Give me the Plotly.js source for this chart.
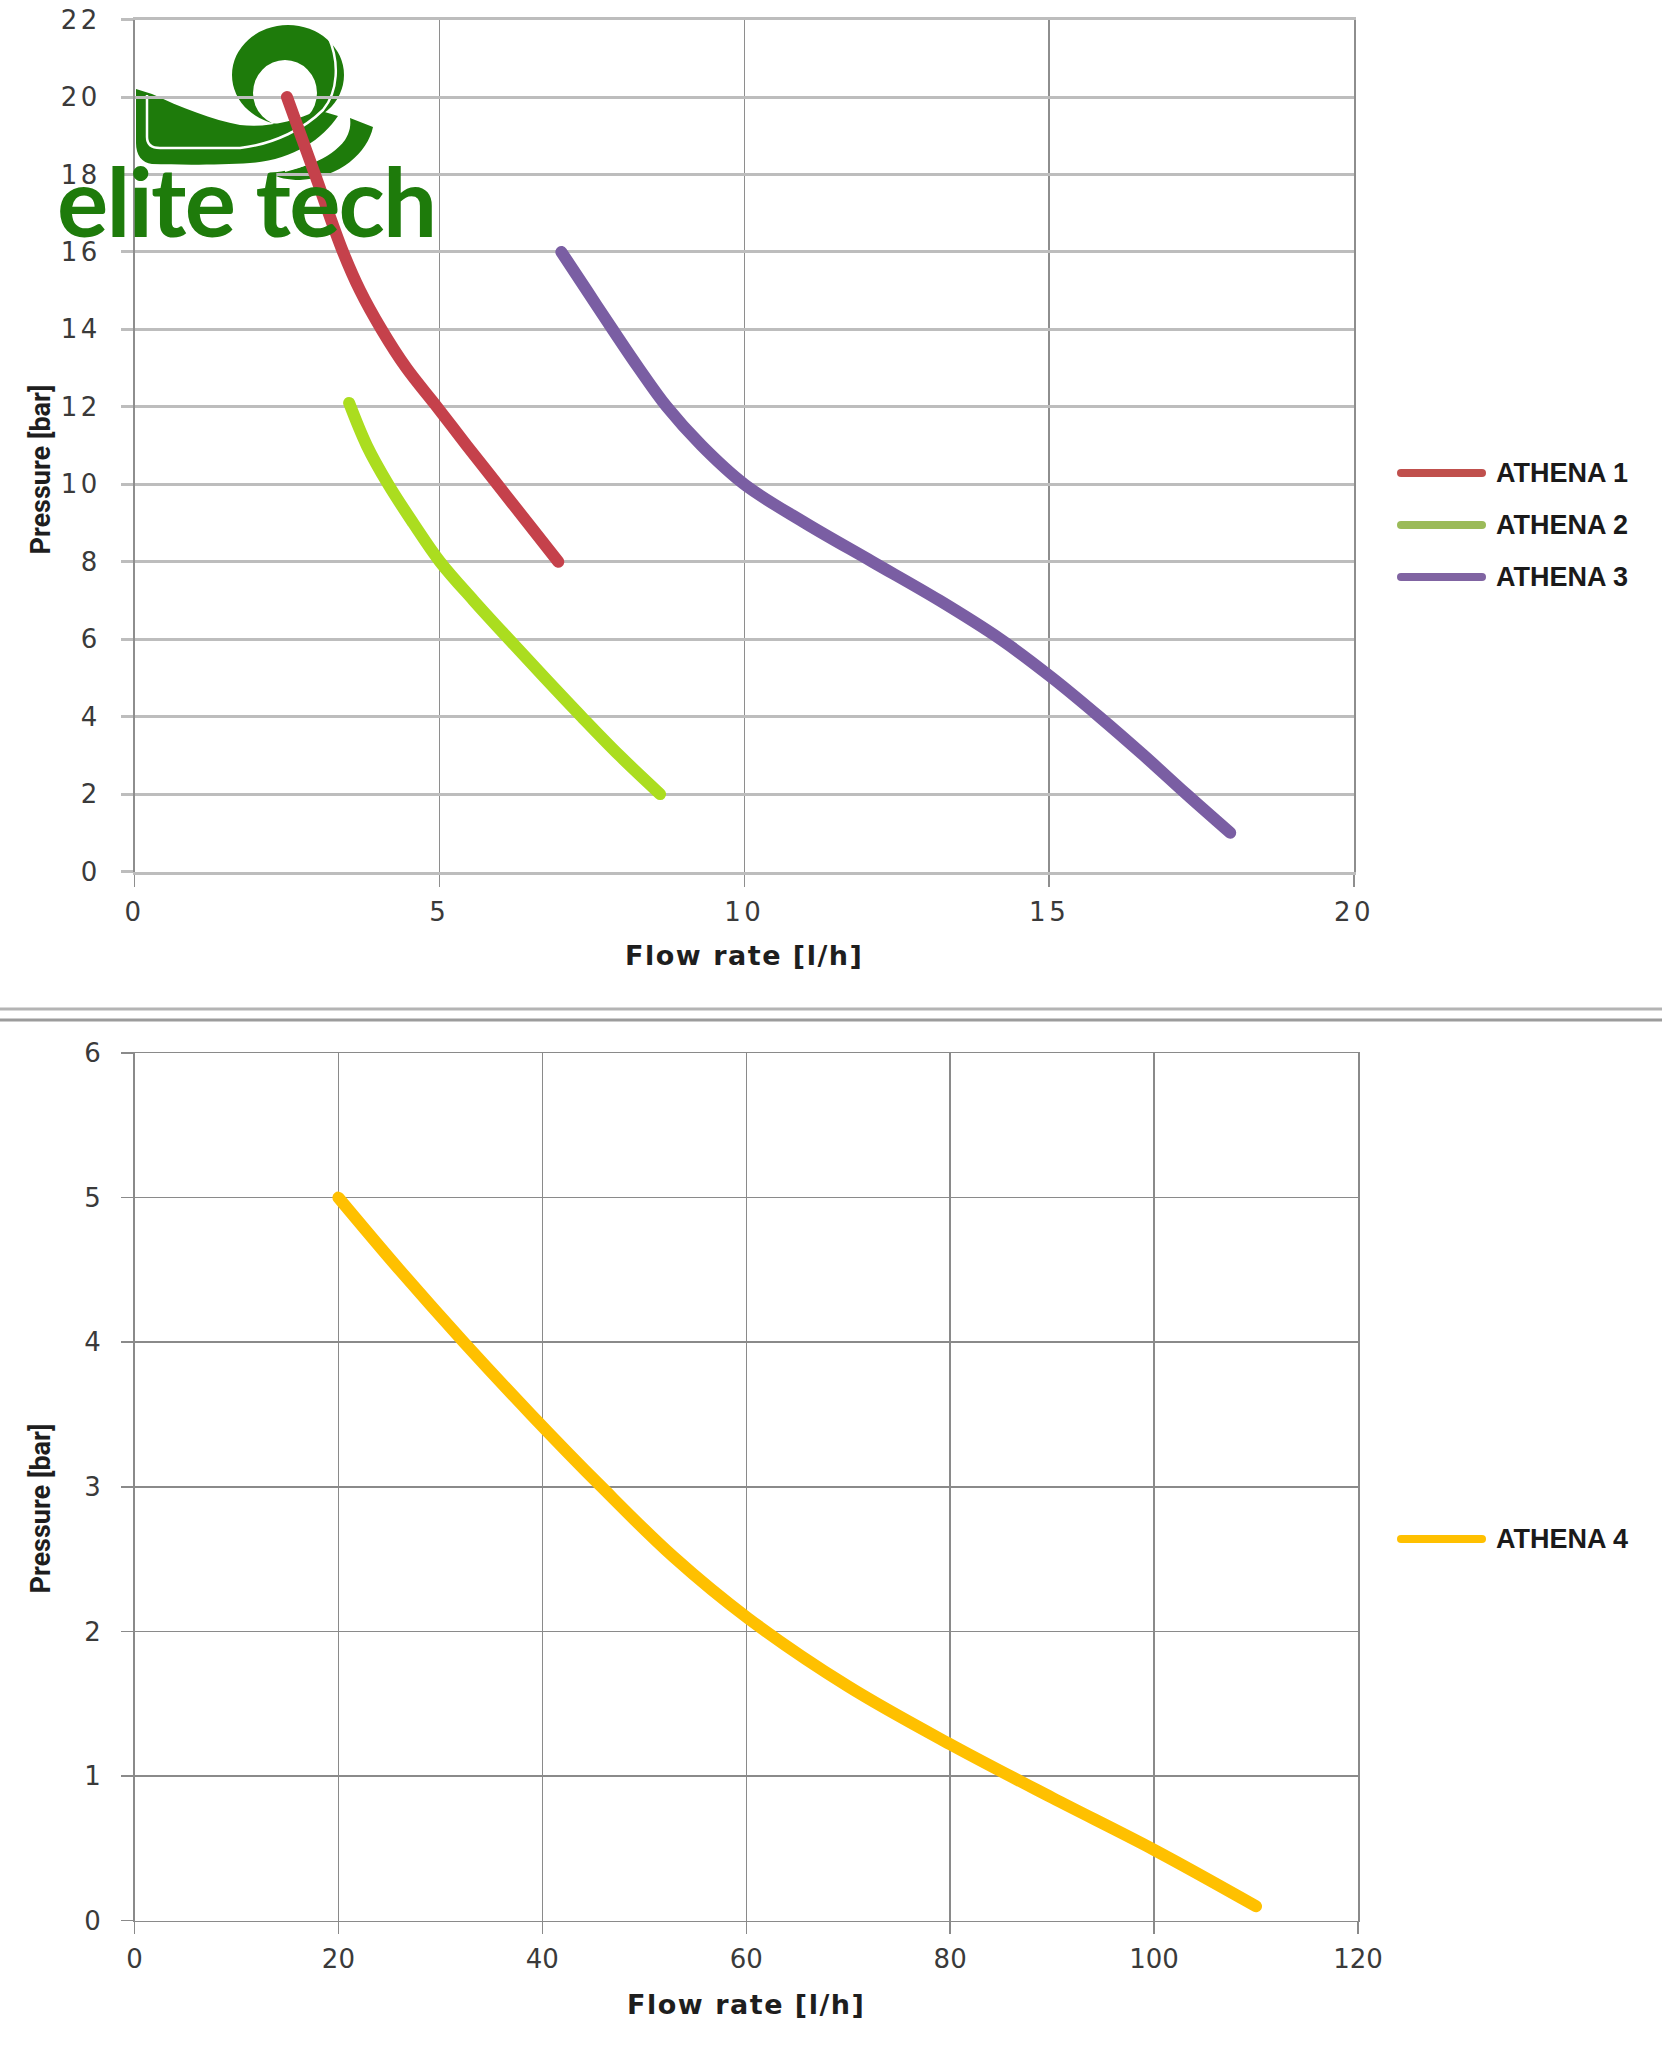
<!DOCTYPE html>
<html><head><meta charset="utf-8">
<script src="https://cdn.plot.ly/plotly-3.0.1.min.js"></script>
<style>
html,body{margin:0;padding:0;background:#fff;}
#chart{width:1662px;height:2048px;}
.xtick text,.ytick text{letter-spacing:3.5px;}
.g-xtitle text,.g-x2title text{letter-spacing:1.5px;}
.annotation[data-index="0"] text{letter-spacing:-1.8px;}
.scatterlayer .js-line{stroke-linecap:round;stroke-linejoin:round;}
.shapelayer path{stroke-linecap:round;}
</style></head><body><div id="chart"></div>
<script>
// ---------- data ----------
const topSeriesNames = ['ATHENA 1', 'ATHENA 2', 'ATHENA 3'];
const athena1Flow = [2.5, 2.96, 3.42, 3.7, 4.05, 4.46, 4.96, 5.45, 5.95, 6.45, 6.95];
const athena1Pressure = [20, 18, 16, 15, 14, 13, 12, 11, 10, 9, 8];
const athena2Flow = [3.52, 3.81, 4.16, 4.57, 5.01, 5.56, 6.14, 6.73, 7.33, 7.95, 8.62];
const athena2Pressure = [12.1, 11, 10, 9, 8, 7, 6, 5, 4, 3, 2];
const athena3Flow = [7.0, 7.42, 7.84, 8.27, 8.73, 9.3, 10.0, 11.0, 12.1, 13.2, 14.2, 15.05, 15.82, 16.55, 17.25, 17.97];
const athena3Pressure = [16, 15, 14, 13, 12, 11, 10, 9, 8, 7, 6, 5, 4, 3, 2, 1];

const bottomSeriesNames = ['ATHENA 4'];
const athena4Flow = [20, 26, 32.3, 38.9, 45.8, 52.8, 60.2, 70, 80, 90, 100, 110];
const athena4Pressure = [5, 4.5, 4, 3.5, 3, 2.52, 2.09, 1.62, 1.22, 0.85, 0.49, 0.1];

const xTitle = 'Flow rate [l/h]';
const yTitle = 'Pressure [bar]';
const logoText = 'elite tech';

// ---------- styles ----------
const lineColors = ['#c5414b', '#abdd1f', '#7a5ea3'];
const legendColors = ['#c0504d', '#9bbb59', '#8064a2'];
const orange = '#ffc000';
const W = 1662, H = 2048;
const px = v => v / W;
const py = v => 1 - v / H;

const traces = [
  {x: athena1Flow, y: athena1Pressure, name: topSeriesNames[0], line: {color: lineColors[0]}},
  {x: athena2Flow, y: athena2Pressure, name: topSeriesNames[1], line: {color: lineColors[1]}},
  {x: athena3Flow, y: athena3Pressure, name: topSeriesNames[2], line: {color: lineColors[2]}},
  {x: athena4Flow, y: athena4Pressure, name: bottomSeriesNames[0], line: {color: orange}, xaxis: 'x2', yaxis: 'y2'}
].map(t => Object.assign({type: 'scatter', mode: 'lines', showlegend: false, hoverinfo: 'skip'}, t,
  {line: Object.assign({width: 12, shape: 'spline', smoothing: 1}, t.line)}));

const tickFont = {family: 'DejaVu Sans, Verdana, sans-serif', size: 26, color: '#3a3a3a'};
const titleFontX = {family: 'DejaVu Sans, Verdana, sans-serif', size: 27, color: '#1e1e1e', weight: 700};
const titleFontY = {family: 'Liberation Sans Narrow, Arial Narrow, Roboto, sans-serif', size: 27, color: '#1e1e1e', weight: 700};

function xAxis(domain, range, dtick, anchor, gridColor, gw, lineColor, lw) {
  return {domain, range, dtick, anchor, tickfont: tickFont, showgrid: true, gridcolor: gridColor, gridwidth: gw,
    zeroline: true, zerolinecolor: gridColor, zerolinewidth: gw, ticks: 'outside', ticklen: 12, tickcolor: gridColor,
    tickwidth: gw, ticklabelstandoff: 3, showline: true, mirror: true, linecolor: lineColor, linewidth: lw,
    fixedrange: true, title: {text: xTitle, font: titleFontX, standoff: 21}};
}
function yAxis(domain, range, dtick, anchor, gridColor, gw, lineColor, lw) {
  return {domain, range, dtick, anchor, tickfont: tickFont, showgrid: true, gridcolor: gridColor, gridwidth: gw,
    zeroline: true, zerolinecolor: gridColor, zerolinewidth: gw, ticks: 'outside', ticklen: 12, tickcolor: gridColor,
    tickwidth: gw, ticklabelstandoff: 15, showline: true, mirror: true, linecolor: lineColor, linewidth: lw,
    fixedrange: true};
}

const shapes = [
  {type: 'line', xref: 'paper', yref: 'paper', x0: 0, x1: 1, y0: py(1009), y1: py(1009), line: {color: '#b4b4b4', width: 3}},
  {type: 'line', xref: 'paper', yref: 'paper', x0: 0, x1: 1, y0: py(1020), y1: py(1020), line: {color: '#9c9c9c', width: 3}}
];
const annotations = [];

// logo text (first annotation, letter-spacing set in css)
annotations.push({xref: 'paper', yref: 'paper', x: px(46), y: py(199), xanchor: 'left', yanchor: 'middle',
  text: logoText, showarrow: false, font: {family: 'Lato, sans-serif', size: 96, color: '#1e7b0b', weight: 700}});

// y axis titles
[470, 1509].forEach(cy => {
  annotations.push({xref: 'paper', yref: 'paper', x: px(40.5), y: py(cy), xanchor: 'center', yanchor: 'middle',
    text: yTitle, textangle: -90, showarrow: false, font: titleFontY});
});

// custom legends
function addLegend(names, colors, firstRowY) {
  names.forEach((n, i) => {
    const yy = py(firstRowY + i * 52);
    shapes.push({type: 'line', xref: 'paper', yref: 'paper', x0: px(1401), x1: px(1482), y0: yy, y1: yy,
      line: {color: colors[i], width: 8}});
    annotations.push({xref: 'paper', yref: 'paper', x: px(1494), y: yy, xanchor: 'left', yanchor: 'middle',
      text: n, showarrow: false, font: {family: 'Liberation Sans, Arial, sans-serif', size: 27, color: '#1a1a1a', weight: 700}});
  });
}
addLegend(topSeriesNames, legendColors, 473);
addLegend(bottomSeriesNames, [orange], 1539);

// logo swoosh as svg image
const g = '#1e7b0b';
const svg = `<svg xmlns="http://www.w3.org/2000/svg" width="${W}" height="${H}" viewBox="0 0 ${W} ${H}">
<path fill-rule="evenodd" fill="${g}" d="M232 75 A56 50 0 1 1 344 75 A56 50 0 1 1 232 75 Z M253 93 A32 33 0 1 1 317 93 A32 33 0 1 1 253 93 Z"/>
<path fill="${g}" d="M136 89 L152 94 C180 107 213 120 240 125 C265 128 295 122 318 110 L338 116 C322 140 292 160 250 163 C220 165 180 165 152 164 C142 163 136 155 136 143 Z"/>
<path fill="none" stroke="#fff" stroke-width="2.5" d="M147 95 L147 137 C147 145 152 148 160 148 L240 148 C275 144 305 128 323 110 C338 92 340 62 328 36"/>
<path fill="${g}" d="M350 118 L373 127 C368 152 340 178 300 180 C288 180 278 178 270 173 C300 170 330 160 345 140 C350 132 351 125 350 118 Z"/>
<path fill="none" stroke="#fff" stroke-width="2" d="M347 124 C343 145 322 162 285 171"/>
</svg>`;

const layout = {
  width: W, height: H, margin: {l: 0, r: 0, t: 0, b: 0},
  paper_bgcolor: '#ffffff', plot_bgcolor: 'rgba(0,0,0,0)',
  xaxis: xAxis([px(134.5), px(1354)], [0, 20], 5, 'y', '#8e8e8e', 1.5, '#bdbdbd', 3),
  yaxis: yAxis([py(871.5), py(19.6)], [0, 22], 2, 'x', '#bdbdbd', 3, '#8e8e8e', 1.5),
  xaxis2: xAxis([px(134.5), px(1358)], [0, 120], 20, 'y2', '#8a8a8a', 1.5, '#8a8a8a', 1.5),
  yaxis2: yAxis([py(1920.7), py(1053)], [0, 6], 1, 'x2', '#8a8a8a', 1.5, '#8a8a8a', 1.5),
  shapes, annotations,
  images: [{source: 'data:image/svg+xml;charset=utf-8,' + encodeURIComponent(svg), xref: 'paper', yref: 'paper',
    x: 0, y: 1, sizex: 1, sizey: 1, xanchor: 'left', yanchor: 'top', sizing: 'stretch', layer: 'below'}]
};
layout.xaxis.zerolinecolor = '#bdbdbd';
layout.xaxis.zerolinewidth = 3;
layout.yaxis.zerolinecolor = '#9a9a9a';
layout.yaxis.zerolinewidth = 1.5;

Plotly.newPlot('chart', traces, layout, {staticPlot: true, displayModeBar: false});
</script></body></html>
